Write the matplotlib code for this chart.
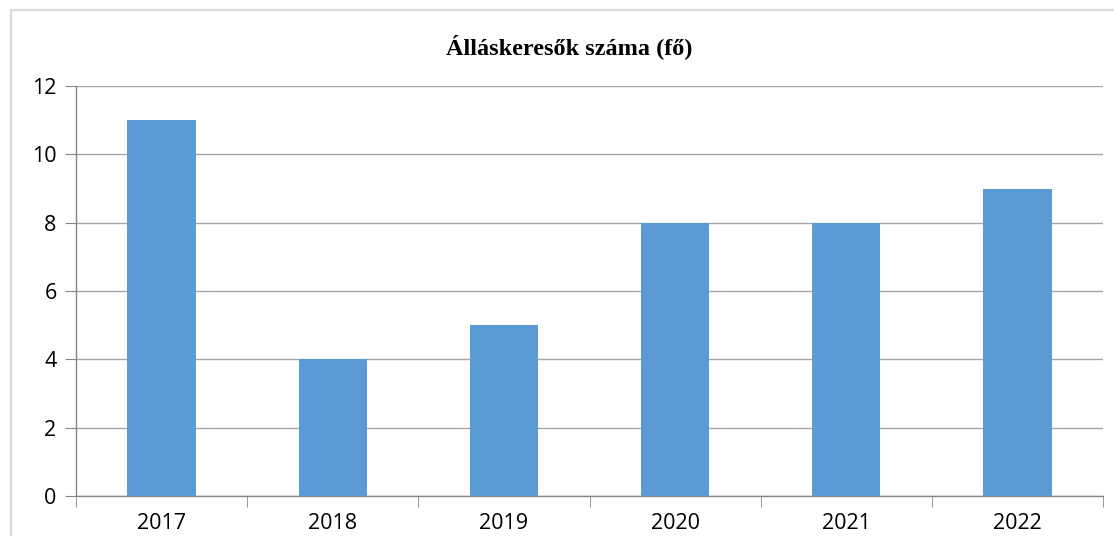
import matplotlib.pyplot as plt
from matplotlib.patches import Rectangle
import numpy as np

years = ["2017", "2018", "2019", "2020", "2021", "2022"]
counts = [11, 4, 5, 8, 8, 9]
title = "Álláskeresők száma (fő)"

W, H = 1114, 536
fig = plt.figure(figsize=(W / 100, H / 100), dpi=100)

# chart frame (light gray border, top and left visible)
fig.add_artist(Rectangle((11 / W, -0.1), 1.2, 1 - 10 / H + 0.1, transform=fig.transFigure,
                         fill=False, edgecolor="#d9d9d9", linewidth=1.6))

ax = fig.add_axes([76 / W, 1 - 496 / H, (1103 - 76) / W, (496 - 86) / H])

x = np.arange(len(years))
ax.bar(x, counts, width=0.40, color="#5b9bd5", zorder=3)

ax.set_xlim(-0.5, len(years) - 0.5)
ax.set_ylim(0, 12)
ax.set_yticks(range(0, 13, 2))
ax.set_xticks(x)
ax.set_xticklabels(years)
ax.set_xticks(np.arange(-0.5, len(years)), minor=True)

ax.grid(axis="y", color="#a6a6a6", linewidth=1, zorder=0)
for s in ["top", "right"]:
    ax.spines[s].set_visible(False)
for s in ["left", "bottom"]:
    ax.spines[s].set_color("#868686")
    ax.spines[s].set_linewidth(1)

ax.tick_params(axis="x", which="major", length=0, pad=12, labelsize=15.5)
ax.tick_params(axis="x", which="minor", length=8, color="#868686")
ax.tick_params(axis="y", length=8, color="#868686", labelsize=15.5, pad=6)
for lbl in ax.get_xticklabels() + ax.get_yticklabels():
    lbl.set_fontfamily("Open Sans")

# title sits a bit left of the plot centre in the original
fig.text(569 / W, 1 - 47 / H, title, ha="center", va="center",
         fontfamily="Liberation Serif", fontweight="bold", fontsize=17.5)

fig.savefig("out.png", dpi=100)
